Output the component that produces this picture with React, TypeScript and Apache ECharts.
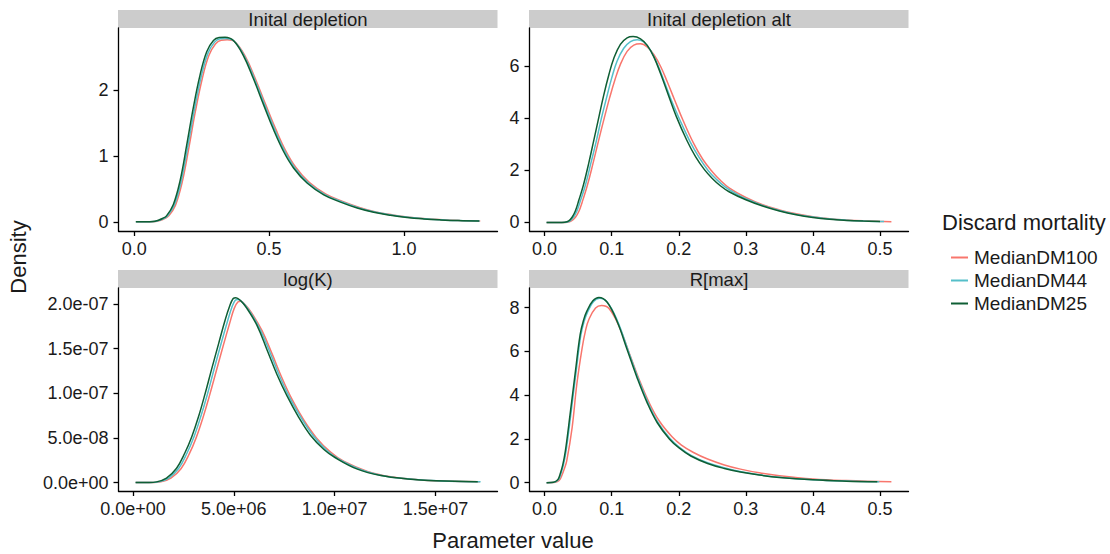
import React, { useEffect, useRef } from "react";
import * as echarts from "echarts";

// ---------- data ----------
const seriesNames = ["MedianDM100", "MedianDM44", "MedianDM25"];
const seriesColors = ["#F8766D", "#55BFC9", "#0F5E34"];
const panelTitles = ["Inital depletion", "Inital depletion alt", "log(K)", "R[max]"];

// Panel 1: Inital depletion
const depletionDM100 = [[0.008,0],[0.045,0],[0.078,0.005],[0.098,0.025],[0.113,0.05],[0.128,0.09],[0.153,0.25],[0.178,0.6],[0.203,1.13],[0.227,1.68],[0.252,2.17],[0.277,2.53],[0.302,2.71],[0.323,2.765],[0.345,2.77],[0.376,2.73],[0.413,2.51],[0.45,2.17],[0.488,1.78],[0.525,1.41],[0.562,1.08],[0.599,0.83],[0.649,0.6],[0.711,0.42],[0.773,0.31],[0.835,0.22],[0.896,0.15],[0.958,0.105],[1.02,0.07],[1.082,0.046],[1.144,0.03],[1.208,0.019],[1.283,0.011]];
const depletionDM44 = [[0.007,0],[0.042,0],[0.074,0.005],[0.094,0.025],[0.109,0.05],[0.124,0.09],[0.149,0.255],[0.174,0.61],[0.199,1.15],[0.223,1.7],[0.248,2.2],[0.273,2.56],[0.298,2.735],[0.319,2.785],[0.341,2.79],[0.372,2.745],[0.409,2.52],[0.446,2.175],[0.484,1.78],[0.521,1.405],[0.558,1.075],[0.595,0.825],[0.645,0.595],[0.707,0.415],[0.769,0.305],[0.831,0.215],[0.892,0.148],[0.954,0.102],[1.016,0.068],[1.078,0.045],[1.14,0.03],[1.204,0.018],[1.281,0.011]];
const depletionDM25 = [[0.006,0],[0.04,0],[0.07,0.005],[0.09,0.025],[0.105,0.05],[0.12,0.09],[0.145,0.26],[0.17,0.62],[0.195,1.17],[0.219,1.73],[0.244,2.23],[0.269,2.59],[0.294,2.76],[0.315,2.805],[0.337,2.81],[0.368,2.76],[0.405,2.53],[0.442,2.18],[0.48,1.78],[0.517,1.4],[0.554,1.07],[0.591,0.82],[0.641,0.59],[0.703,0.41],[0.765,0.3],[0.827,0.21],[0.888,0.145],[0.95,0.1],[1.012,0.066],[1.074,0.044],[1.136,0.029],[1.2,0.018],[1.279,0.011]];

// Panel 2: Inital depletion alt
const depletionAltDM100 = [[0.003,0],[0.025,0],[0.034,0.01],[0.04,0.06],[0.046,0.2],[0.051,0.42],[0.056,0.78],[0.064,1.45],[0.072,2.25],[0.08,3.1],[0.089,4.02],[0.097,4.8],[0.105,5.5],[0.113,6.08],[0.123,6.58],[0.133,6.82],[0.143,6.87],[0.153,6.75],[0.163,6.45],[0.173,6.0],[0.183,5.4],[0.194,4.7],[0.206,3.95],[0.222,3.05],[0.236,2.42],[0.25,1.95],[0.262,1.62],[0.275,1.33],[0.3,0.96],[0.325,0.68],[0.35,0.48],[0.375,0.33],[0.4,0.22],[0.425,0.145],[0.45,0.095],[0.475,0.062],[0.5,0.04],[0.517,0.03]];
const depletionAltDM44 = [[0.003,0],[0.022,0],[0.032,0.01],[0.038,0.06],[0.043,0.2],[0.048,0.43],[0.053,0.8],[0.061,1.45],[0.069,2.28],[0.077,3.12],[0.085,4.04],[0.093,4.86],[0.1,5.55],[0.108,6.2],[0.118,6.7],[0.128,6.96],[0.138,7.03],[0.148,6.94],[0.158,6.62],[0.168,6.1],[0.178,5.45],[0.189,4.7],[0.201,3.98],[0.217,3.1],[0.231,2.47],[0.244,1.99],[0.256,1.66],[0.269,1.37],[0.287,1.08],[0.3,0.91],[0.325,0.655],[0.35,0.46],[0.375,0.31],[0.4,0.205],[0.425,0.132],[0.45,0.086],[0.475,0.056],[0.506,0.035]];
const depletionAltDM25 = [[0.003,0],[0.02,0],[0.03,0.01],[0.036,0.06],[0.041,0.2],[0.046,0.45],[0.051,0.85],[0.058,1.45],[0.066,2.3],[0.073,3.12],[0.081,4.06],[0.088,4.88],[0.096,5.7],[0.103,6.3],[0.113,6.85],[0.123,7.1],[0.132,7.15],[0.143,7.06],[0.153,6.81],[0.163,6.36],[0.173,5.72],[0.183,5.01],[0.196,4.1],[0.212,3.16],[0.225,2.53],[0.238,2.04],[0.25,1.69],[0.262,1.41],[0.275,1.18],[0.3,0.87],[0.325,0.63],[0.35,0.44],[0.375,0.295],[0.4,0.19],[0.425,0.12],[0.45,0.078],[0.475,0.05],[0.5,0.032]];

// Panel 3: log(K)
const logKDM100 = [[1.3e5,0],[1.0e6,0],[1.38e6,0.007e-7],[1.88e6,0.05e-7],[2.38e6,0.155e-7],[2.79e6,0.32e-7],[3.13e6,0.5e-7],[3.46e6,0.72e-7],[3.79e6,0.97e-7],[4.12e6,1.24e-7],[4.46e6,1.52e-7],[4.79e6,1.78e-7],[5.02e6,1.95e-7],[5.2e6,2.02e-7],[5.35e6,2.03e-7],[5.52e6,2.0e-7],[5.85e6,1.91e-7],[6.4e6,1.7e-7],[6.9e6,1.44e-7],[7.39e6,1.17e-7],[7.89e6,0.93e-7],[8.47e6,0.7e-7],[9.1e6,0.5e-7],[9.8e6,0.34e-7],[1.047e7,0.235e-7],[1.163e7,0.125e-7],[1.279e7,0.065e-7],[1.412e7,0.032e-7],[1.545e7,0.016e-7],[1.72e7,0.008e-7]];
const logKDM44 = [[1.3e5,0],[9e5,0],[1.27e6,0.007e-7],[1.77e6,0.05e-7],[2.27e6,0.16e-7],[2.68e6,0.33e-7],[3.02e6,0.51e-7],[3.35e6,0.73e-7],[3.68e6,0.98e-7],[4.01e6,1.26e-7],[4.35e6,1.54e-7],[4.68e6,1.8e-7],[4.9e6,1.96e-7],[5.07e6,2.04e-7],[5.2e6,2.05e-7],[5.42e6,2.02e-7],[5.75e6,1.93e-7],[6.27e6,1.73e-7],[6.77e6,1.47e-7],[7.27e6,1.19e-7],[7.77e6,0.95e-7],[8.35e6,0.72e-7],[8.95e6,0.52e-7],[9.63e6,0.355e-7],[1.025e7,0.255e-7],[1.138e7,0.137e-7],[1.254e7,0.07e-7],[1.387e7,0.036e-7],[1.525e7,0.018e-7],[1.724e7,0.008e-7]];
const logKDM25 = [[1.3e5,0],[8e5,0],[1.16e6,0.007e-7],[1.66e6,0.05e-7],[2.16e6,0.16e-7],[2.57e6,0.33e-7],[2.91e6,0.51e-7],[3.24e6,0.73e-7],[3.57e6,0.99e-7],[3.9e6,1.27e-7],[4.24e6,1.55e-7],[4.57e6,1.82e-7],[4.8e6,1.98e-7],[4.97e6,2.06e-7],[5.1e6,2.07e-7],[5.32e6,2.04e-7],[5.65e6,1.95e-7],[6.15e6,1.76e-7],[6.64e6,1.49e-7],[7.14e6,1.21e-7],[7.64e6,0.97e-7],[8.22e6,0.73e-7],[8.8e6,0.53e-7],[9.47e6,0.37e-7],[1.002e7,0.28e-7],[1.113e7,0.15e-7],[1.229e7,0.078e-7],[1.362e7,0.04e-7],[1.504e7,0.02e-7],[1.71e7,0.008e-7]];

// Panel 4: R[max]
const rmaxDM100 = [[0.003,0],[0.013,0.005],[0.019,0.05],[0.023,0.15],[0.026,0.35],[0.029,0.6],[0.033,1.0],[0.041,2.51],[0.048,4.49],[0.056,6.16],[0.061,6.95],[0.066,7.46],[0.076,7.99],[0.085,8.1],[0.096,7.96],[0.111,7.15],[0.126,5.94],[0.141,4.72],[0.156,3.65],[0.171,2.82],[0.19,2.1],[0.204,1.72],[0.222,1.38],[0.243,1.08],[0.268,0.81],[0.292,0.62],[0.32,0.45],[0.35,0.32],[0.4,0.17],[0.45,0.095],[0.517,0.04]];
const rmaxDM44 = [[0.003,0],[0.011,0.005],[0.017,0.05],[0.021,0.15],[0.024,0.38],[0.028,0.8],[0.032,1.45],[0.039,3.1],[0.047,5.08],[0.054,6.74],[0.059,7.38],[0.064,7.8],[0.073,8.28],[0.082,8.43],[0.094,8.23],[0.109,7.37],[0.124,6.09],[0.139,4.8],[0.154,3.67],[0.169,2.76],[0.187,2.02],[0.201,1.62],[0.219,1.24],[0.244,0.9],[0.269,0.67],[0.293,0.5],[0.32,0.36],[0.35,0.25],[0.4,0.135],[0.45,0.072],[0.499,0.04]];
const rmaxDM25 = [[0.003,0],[0.01,0.005],[0.016,0.05],[0.02,0.15],[0.023,0.38],[0.027,0.8],[0.031,1.45],[0.038,3.12],[0.046,5.1],[0.053,6.77],[0.058,7.42],[0.063,7.84],[0.072,8.32],[0.081,8.47],[0.093,8.26],[0.108,7.38],[0.123,6.09],[0.138,4.79],[0.153,3.65],[0.168,2.74],[0.186,2.0],[0.2,1.6],[0.218,1.22],[0.243,0.88],[0.268,0.65],[0.292,0.49],[0.32,0.35],[0.35,0.24],[0.4,0.13],[0.45,0.07],[0.496,0.04]];

// tick values
const depletionXTicks = [0, 0.5, 1.0];
const depletionYTicks = [0, 1, 2];
const altXTicks = [0, 0.1, 0.2, 0.3, 0.4, 0.5];
const altYTicks = [0, 2, 4, 6];
const logKXTicks = [0, 5e6, 1e7, 1.5e7];
const logKYTicks = [0, 5e-8, 1e-7, 1.5e-7, 2e-7];
const rmaxXTicks = [0, 0.1, 0.2, 0.3, 0.4, 0.5];
const rmaxYTicks = [0, 2, 4, 6, 8];

// ---------- formatting ----------
const sci = (v: number) => {
  if (v === 0) return "0.0e+00";
  const s = v.toExponential(1);
  const [m, e] = s.split("e");
  const sign = e[0] === "-" ? "-" : "+";
  const digits = e.replace(/[+-]/, "").padStart(2, "0");
  return `${m}e${sign}${digits}`;
};
const fixed1 = (v: number) => v.toFixed(1);
const intFmt = (v: number) => String(Math.round(v));

const FONT = '"Liberation Sans", Arial, Helvetica, sans-serif';
const TXT = "#1A1A1A";

const PW = 379;
const PH = 203;
const panels = [
  { left: 118.5, top: 28, xMin: -0.058, xMax: 1.347, yMin: -0.14, yMax: 2.95, xTicks: depletionXTicks, yTicks: depletionYTicks, xFmt: fixed1, yFmt: intFmt, data: [depletionDM100, depletionDM44, depletionDM25] },
  { left: 529.5, top: 28, xMin: -0.0225, xMax: 0.5425, yMin: -0.33, yMax: 7.48, xTicks: altXTicks, yTicks: altYTicks, xFmt: fixed1, yFmt: intFmt, data: [depletionAltDM100, depletionAltDM44, depletionAltDM25] },
  { left: 118.5, top: 288, xMin: -0.72e6, xMax: 18.08e6, yMin: -0.095e-7, yMax: 2.178e-7, xTicks: logKXTicks, yTicks: logKYTicks, xFmt: sci, yFmt: sci, data: [logKDM100, logKDM44, logKDM25] },
  { left: 529.5, top: 288, xMin: -0.0225, xMax: 0.5425, yMin: -0.38, yMax: 8.9, xTicks: rmaxXTicks, yTicks: rmaxYTicks, xFmt: fixed1, yFmt: intFmt, data: [rmaxDM100, rmaxDM44, rmaxDM25] },
];

export default function App() {
  const ref = useRef<HTMLDivElement>(null);
  useEffect(() => {
    if (!ref.current) return;
    const chart = echarts.init(ref.current, null, { renderer: "svg" });
    const axisLine = { show: true, onZero: false, lineStyle: { color: "#000", width: 1.3 } };
    const labelStyle = { fontSize: 18, color: TXT, fontFamily: FONT };

    const grid = panels.map((p) => ({ left: p.left, top: p.top, width: PW, height: PH, containLabel: false }));
    const xAxis = panels.map((p, i) => ({
      type: "value",
      gridIndex: i,
      min: p.xMin,
      max: p.xMax,
      axisLine,
      axisTick: { show: true, length: 5, lineStyle: { color: "#000", width: 1.3 }, customValues: p.xTicks },
      axisLabel: { ...labelStyle, margin: 9, customValues: p.xTicks, formatter: (v: number) => p.xFmt(v) },
      splitLine: { show: false },
    }));
    const yAxis = panels.map((p, i) => ({
      type: "value",
      gridIndex: i,
      min: p.yMin,
      max: p.yMax,
      axisLine,
      axisTick: { show: true, length: 5, lineStyle: { color: "#000", width: 1.3 }, customValues: p.yTicks },
      axisLabel: { ...labelStyle, margin: 10, customValues: p.yTicks, formatter: (v: number) => p.yFmt(v) },
      splitLine: { show: false },
    }));
    const series: any[] = [];
    panels.forEach((p, i) => {
      p.data.forEach((d, k) => {
        series.push({
          type: "line",
          name: seriesNames[k],
          xAxisIndex: i,
          yAxisIndex: i,
          data: d,
          smooth: 0.4,
          symbol: "none",
          showSymbol: false,
          color: seriesColors[k],
          itemStyle: { color: seriesColors[k] },
          lineStyle: { color: seriesColors[k], width: 1.5 },
          z: 2 + k,
        });
      });
    });

    const graphic: any[] = [];
    panels.forEach((p, i) => {
      graphic.push({
        type: "rect",
        shape: { x: p.left - 0.5, y: p.top - 18, width: PW + 0.5, height: 18 },
        style: { fill: "#CCCCCC" },
        silent: true,
      });
      graphic.push({
        type: "text",
        x: p.left + PW / 2,
        y: p.top - 8.5,
        style: { text: panelTitles[i], fontSize: 18.5, fontFamily: FONT, fill: TXT, align: "center", verticalAlign: "middle" },
        silent: true,
      });
    });
    graphic.push({
      type: "text",
      x: 18,
      y: 257,
      rotation: Math.PI / 2,
      style: { text: "Density", fontSize: 22, fontFamily: FONT, fill: TXT, align: "center", verticalAlign: "middle" },
      silent: true,
    });
    graphic.push({
      type: "text",
      x: 513,
      y: 540,
      style: { text: "Parameter value", fontSize: 22, fontFamily: FONT, fill: TXT, align: "center", verticalAlign: "middle" },
      silent: true,
    });
    graphic.push({
      type: "text",
      x: 942,
      y: 222,
      style: { text: "Discard mortality", fontSize: 22, fontFamily: FONT, fill: TXT, align: "left", verticalAlign: "middle" },
      silent: true,
    });

    chart.setOption({
      animation: false,
      backgroundColor: "#FFFFFF",
      grid,
      xAxis,
      yAxis,
      series,
      graphic,
      legend: {
        data: seriesNames,
        orient: "vertical",
        left: 946,
        top: 243,
        icon: "rect",
        itemWidth: 17,
        itemHeight: 2,
        itemGap: 4,
        selectedMode: false,
        textStyle: { fontSize: 19, color: TXT, fontFamily: FONT, padding: [0, 0, 0, 1] },
      },
    });
    return () => chart.dispose();
  }, []);
  return <div ref={ref} style={{ position: "absolute", left: 0, top: 0, width: 1110, height: 554 }} />;
}
